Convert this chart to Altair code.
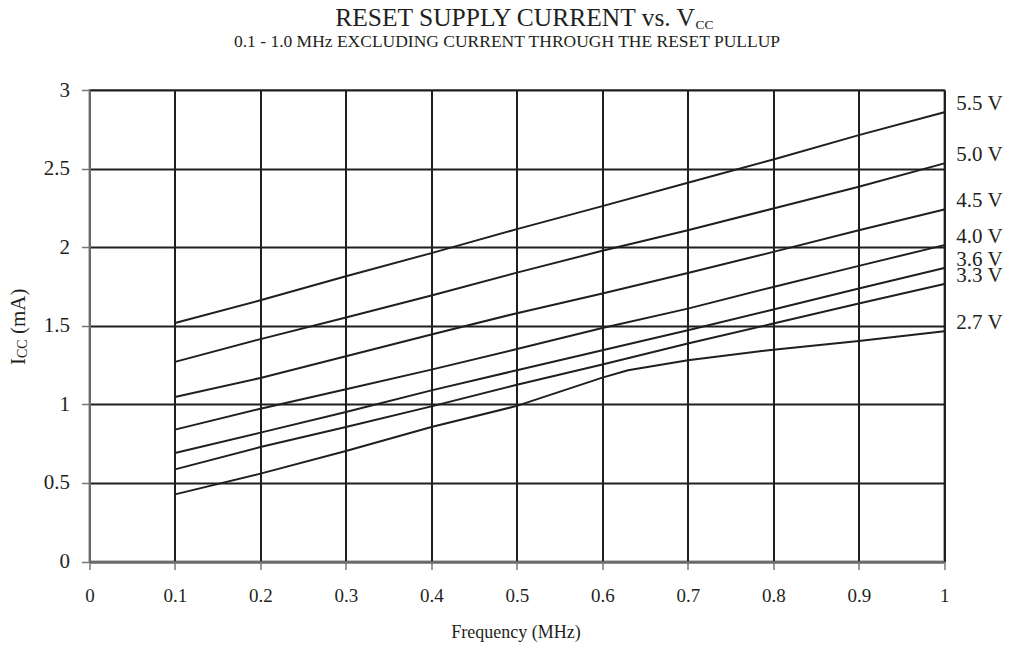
import altair as alt
import pandas as pd

# ---- data ----
SERIES = ["5.5 V", "5.0 V", "4.5 V", "4.0 V", "3.6 V", "3.3 V", "2.7 V"]
FREQ = [0.1, 0.2, 0.3, 0.4, 0.5, 0.6, 0.7, 0.8, 0.9, 1.0]
FREQ_27 = [0.1, 0.2, 0.3, 0.4, 0.5, 0.6, 0.63, 0.7, 0.8, 0.9, 1.0]

I_55 = [1.518, 1.662, 1.815, 1.962, 2.115, 2.261, 2.410, 2.558, 2.713, 2.858]
I_50 = [1.270, 1.415, 1.552, 1.692, 1.838, 1.977, 2.108, 2.246, 2.384, 2.533]
I_45 = [1.047, 1.168, 1.306, 1.444, 1.580, 1.705, 1.836, 1.970, 2.108, 2.240]
I_40 = [0.839, 0.972, 1.096, 1.221, 1.352, 1.486, 1.609, 1.747, 1.881, 2.013]
I_36 = [0.690, 0.820, 0.951, 1.089, 1.217, 1.344, 1.471, 1.603, 1.737, 1.868]
I_33 = [0.586, 0.728, 0.856, 0.987, 1.125, 1.253, 1.387, 1.514, 1.641, 1.766]
I_27 = [0.427, 0.559, 0.703, 0.856, 0.990, 1.170, 1.217, 1.280, 1.348, 1.403, 1.465]

X_TICKS = [0, 0.1, 0.2, 0.3, 0.4, 0.5, 0.6, 0.7, 0.8, 0.9, 1.0]
Y_TICKS = [0, 0.5, 1.0, 1.5, 2.0, 2.5, 3.0]

TITLE_MAIN = "RESET SUPPLY CURRENT vs. V"
TITLE_SUB = "CC"
SUBTITLE = "0.1 - 1.0 MHz EXCLUDING CURRENT THROUGH THE RESET PULLUP"
X_TITLE = "Frequency (MHz)"
Y_TITLE_MAIN = "I"
Y_TITLE_SUB = "CC"
Y_TITLE_UNIT = "(mA)"

# ---- build tables ----
series_data = [
    ("5.5 V", FREQ, I_55),
    ("5.0 V", FREQ, I_50),
    ("4.5 V", FREQ, I_45),
    ("4.0 V", FREQ, I_40),
    ("3.6 V", FREQ, I_36),
    ("3.3 V", FREQ, I_33),
    ("2.7 V", FREQ_27, I_27),
]
rows = []
end_rows = []
for name, xs, ys in series_data:
    for f, v in zip(xs, ys):
        rows.append({"series": name, "freq": f, "icc": v})
    end_rows.append({"series": name, "freq": xs[-1], "icc": ys[-1]})
df = pd.DataFrame(rows)
df_end = pd.DataFrame(end_rows)
one = pd.DataFrame({"k": [0]})

INK = "#231f20"
FONT = "Liberation Serif"

x_enc = alt.X(
    "freq:Q",
    scale=alt.Scale(domain=[0, 1], nice=False, zero=False),
    axis=alt.Axis(
        values=X_TICKS, format=".1~f", title=None, grid=True,
        gridColor="#1f1f1f", gridWidth=2,
        domainColor="#6a6a6a", domainWidth=2,
        tickColor="#777777", tickWidth=1.5, tickSize=8,
        labelFont=FONT, labelFontSize=19, labelColor=INK,
        labelPadding=17, labelFlush=False, labelOverlap=False,
    ),
)
y_enc = alt.Y(
    "icc:Q",
    scale=alt.Scale(domain=[0, 3], nice=False),
    axis=alt.Axis(
        values=Y_TICKS, format=".1~f", title=None, grid=True,
        gridColor="#1f1f1f", gridWidth=2,
        domainColor="#6a6a6a", domainWidth=2,
        tickColor="#777777", tickWidth=1.5, tickSize=8,
        labelFont=FONT, labelFontSize=21, labelColor=INK,
        labelPadding=12, labelOverlap=False,
    ),
)

lines = alt.Chart(df).mark_line(color="#1f1f1f", strokeWidth=2).encode(
    x=x_enc, y=y_enc, detail="series:N"
)

end_labels = alt.Chart(df_end).mark_text(
    align="left", baseline="middle", dx=12, dy=-8,
    font=FONT, fontSize=21, color=INK,
).encode(x=x_enc, y=y_enc, text="series:N")


def txt(text, x, y, size, align="center", angle=None, baseline="alphabetic"):
    kw = dict(align=align, baseline=baseline, font=FONT, fontSize=size, color=INK)
    if angle is not None:
        kw["angle"] = angle
    return alt.Chart(one).mark_text(**kw).encode(
        x=alt.value(x), y=alt.value(y), text=alt.value(text)
    )


title_main = txt(TITLE_MAIN, 605.5, -64.5, 25.5, align="right")
title_sub = txt(TITLE_SUB, 606, -61.5, 13.5, align="left")
subtitle = txt(SUBTITLE, 417.5, -43, 17.5)
x_title = txt(X_TITLE, 426.5, 548, 18)
y_t1 = txt(Y_TITLE_MAIN, -64.5, 275, 21, align="left", angle=270)
y_t2 = txt(Y_TITLE_SUB, -62.5, 268, 14, align="left", angle=270)
y_t3 = txt(Y_TITLE_UNIT, -64.5, 244, 21, align="left", angle=270)

chart = alt.layer(
    lines, end_labels, title_main, title_sub, subtitle, x_title, y_t1, y_t2, y_t3
).properties(
    width=854.8,
    height=471.5,
    autosize=alt.AutoSizeParams(type="none"),
    padding={"left": 81.5, "top": 82, "right": 59, "bottom": 80.5},
    background="white",
).configure_view(
    stroke="#8a8a8a", strokeWidth=2
)

chart.save("out.html", embed_options={"renderer": "svg", "actions": False})
